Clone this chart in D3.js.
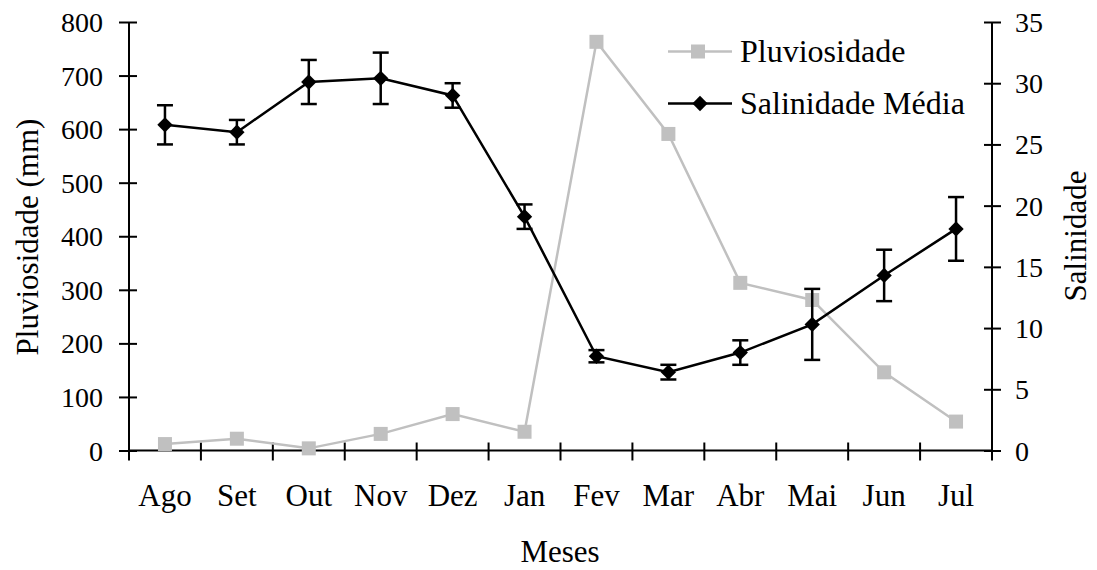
<!DOCTYPE html>
<html>
<head>
    <meta charset="utf-8" />
    <title>Pluviosidade e Salinidade</title>
    <script src="https://cdn.jsdelivr.net/npm/d3@7"></script>
    <style>
        body { margin: 0; background: #fff; }
        text { font-family: "Liberation Serif", "Times New Roman", serif; fill: #000; }
    </style>
</head>
<body>
    <svg width="1097" height="570"></svg>
    <script>

        var meses = ["Ago", "Set", "Out", "Nov", "Dez", "Jan", "Fev", "Mar", "Abr", "Mai", "Jun", "Jul"];
        var pluviosidade = [12, 22, 4, 31, 68, 35, 763, 591, 313, 281, 146, 54];
        var salinidade = [26.6, 26.0, 30.1, 30.4, 29.0, 19.1, 7.7, 6.4, 8.0, 10.3, 14.3, 18.1];
        var erro = [1.6, 1.0, 1.8, 2.1, 1.0, 1.0, 0.5, 0.6, 1.0, 2.9, 2.1, 2.6];
        var ticksPluv = [0, 100, 200, 300, 400, 500, 600, 700, 800];
        var ticksSal = [0, 5, 10, 15, 20, 25, 30, 35];

        var svg = d3.select("svg");
        var esq = 129, dir = 992, topo = 22, base = 450.5;

        var x = d3.scaleBand().domain(meses).range([esq, dir]);
        var yL = d3.scaleLinear().domain([0, 800]).range([base, topo]);
        var yR = d3.scaleLinear().domain([0, 35]).range([base, topo]);
        var cx = function (m) { return x(m) + x.bandwidth() / 2; };

        // eixo x: traços nos limites das categorias
        var gx = svg.append("g");
        gx.append("line")
            .attr("x1", esq).attr("x2", dir)
            .attr("y1", base).attr("y2", base)
            .attr("stroke", "#000").attr("stroke-width", 2);
        gx.selectAll("line.tick")
            .data(meses.map(function (m) { return x(m); }).concat([dir]))
            .enter().append("line")
            .attr("class", "tick")
            .attr("x1", function (d) { return d; }).attr("x2", function (d) { return d; })
            .attr("y1", base - 8).attr("y2", base + 10)
            .attr("stroke", "#000").attr("stroke-width", 2);
        gx.selectAll("text")
            .data(meses)
            .enter().append("text")
            .attr("x", cx)
            .attr("y", 506)
            .attr("text-anchor", "middle")
            .style("font-size", "31px")
            .text(function (d) { return d; });

        // eixo esquerdo
        var gl = svg.append("g")
            .attr("transform", "translate(" + esq + ",0)")
            .call(d3.axisLeft(yL).tickValues(ticksPluv).tickSize(10).tickPadding(16));
        gl.select(".domain").attr("stroke-width", 2).attr("d", "M0," + topo + "V" + base);
        gl.selectAll(".tick line").attr("x1", 8).attr("x2", -10).attr("stroke-width", 2);
        gl.selectAll(".tick text").style("font-size", "28px").attr("dy", "0.34em")
            .style("font-family", "Liberation Serif");

        // eixo direito
        var gr = svg.append("g")
            .attr("transform", "translate(" + dir + ",0)")
            .call(d3.axisRight(yR).tickValues(ticksSal).tickSize(9).tickPadding(14));
        gr.select(".domain").attr("stroke-width", 2).attr("d", "M0," + topo + "V" + base);
        gr.selectAll(".tick line").attr("x1", -8).attr("x2", 9).attr("stroke-width", 2);
        gr.selectAll(".tick text").style("font-size", "28px").attr("dy", "0.34em")
            .style("font-family", "Liberation Serif");

        // títulos dos eixos
        svg.append("text")
            .attr("transform", "translate(38,237) rotate(-90)")
            .attr("text-anchor", "middle")
            .style("font-size", "31px")
            .text("Pluviosidade (mm)");
        svg.append("text")
            .attr("transform", "translate(1086,236) rotate(-90)")
            .attr("text-anchor", "middle")
            .style("font-size", "31px")
            .text("Salinidade");
        svg.append("text")
            .attr("x", 560).attr("y", 562)
            .attr("text-anchor", "middle")
            .style("font-size", "31px")
            .text("Meses");

        // pluviosidade
        var linhaPluv = d3.line()
            .x(function (d, i) { return cx(meses[i]); })
            .y(function (d) { return yL(d); });
        svg.append("path")
            .datum(pluviosidade)
            .attr("d", linhaPluv)
            .attr("fill", "none")
            .attr("stroke", "#c0c0c0")
            .attr("stroke-width", 2.5);
        svg.selectAll("rect.pluv")
            .data(pluviosidade)
            .enter().append("rect")
            .attr("class", "pluv")
            .attr("x", function (d, i) { return cx(meses[i]) - 7; })
            .attr("y", function (d) { return yL(d) - 7; })
            .attr("width", 14).attr("height", 14)
            .attr("fill", "#c0c0c0");

        // salinidade
        var linhaSal = d3.line()
            .x(function (d, i) { return cx(meses[i]); })
            .y(function (d) { return yR(d); });
        svg.append("path")
            .datum(salinidade)
            .attr("d", linhaSal)
            .attr("fill", "none")
            .attr("stroke", "#000")
            .attr("stroke-width", 2.5);

        var barras = svg.selectAll("g.erro")
            .data(salinidade)
            .enter().append("g")
            .attr("class", "erro")
            .attr("stroke", "#000")
            .attr("stroke-width", 2.5);
        barras.append("line")
            .attr("x1", function (d, i) { return cx(meses[i]); })
            .attr("x2", function (d, i) { return cx(meses[i]); })
            .attr("y1", function (d, i) { return yR(d + erro[i]); })
            .attr("y2", function (d, i) { return yR(d - erro[i]); });
        barras.append("line")
            .attr("x1", function (d, i) { return cx(meses[i]) - 8; })
            .attr("x2", function (d, i) { return cx(meses[i]) + 8; })
            .attr("y1", function (d, i) { return yR(d + erro[i]); })
            .attr("y2", function (d, i) { return yR(d + erro[i]); });
        barras.append("line")
            .attr("x1", function (d, i) { return cx(meses[i]) - 8; })
            .attr("x2", function (d, i) { return cx(meses[i]) + 8; })
            .attr("y1", function (d, i) { return yR(d - erro[i]); })
            .attr("y2", function (d, i) { return yR(d - erro[i]); });

        var diamante = d3.symbol().type(d3.symbolDiamond2).size(150);
        svg.selectAll("path.sal")
            .data(salinidade)
            .enter().append("path")
            .attr("class", "sal")
            .attr("d", diamante)
            .attr("transform", function (d, i) { return "translate(" + cx(meses[i]) + "," + yR(d) + ")"; })
            .attr("fill", "#000");

        // legenda
        var leg = svg.append("g");
        leg.append("line").attr("x1", 668).attr("x2", 732).attr("y1", 51.5).attr("y2", 51.5)
            .attr("stroke", "#c0c0c0").attr("stroke-width", 2.5);
        leg.append("rect").attr("x", 691).attr("y", 44.5).attr("width", 14).attr("height", 14)
            .attr("fill", "#c0c0c0");
        leg.append("text").attr("x", 740).attr("y", 62).style("font-size", "32px").text("Pluviosidade");
        leg.append("line").attr("x1", 668).attr("x2", 732).attr("y1", 103.5).attr("y2", 103.5)
            .attr("stroke", "#000").attr("stroke-width", 2.5);
        leg.append("path").attr("d", diamante).attr("transform", "translate(700,103.5)").attr("fill", "#000");
        leg.append("text").attr("x", 740).attr("y", 114).style("font-size", "32px").text("Salinidade Média");

    </script>
</body>
</html>
